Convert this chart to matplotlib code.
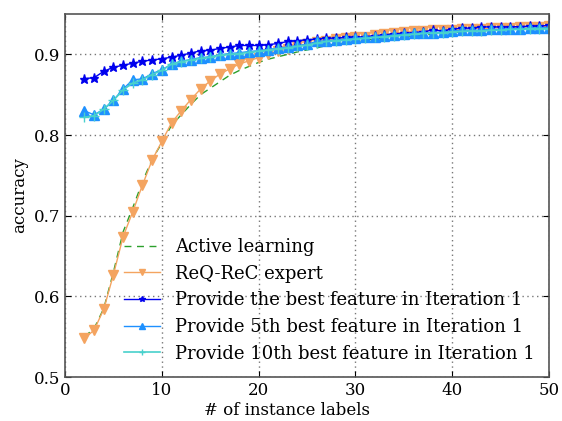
import numpy as np
import matplotlib
matplotlib.use('Agg')
import matplotlib.pyplot as plt

plt.rcParams['font.family'] = 'DejaVu Serif'
plt.rcParams['mathtext.fontset'] = 'dejavuserif'

# numero de etiquetas (eje x)
x = np.arange(2, 51)

active = [0.550, 0.560, 0.585, 0.630, 0.680, 0.710, 0.742, 0.770, 0.790, 0.812,
          0.825, 0.838, 0.850, 0.858, 0.866, 0.874, 0.880, 0.885, 0.890, 0.894,
          0.897, 0.900, 0.903, 0.9055, 0.908, 0.911, 0.913, 0.914, 0.916, 0.9175,
          0.919, 0.920, 0.921, 0.922, 0.923, 0.924, 0.925, 0.926, 0.927, 0.928,
          0.929, 0.929, 0.930, 0.930, 0.931, 0.931, 0.932, 0.932, 0.933]
reqrec = [0.548, 0.558, 0.584, 0.627, 0.674, 0.705, 0.738, 0.769, 0.792, 0.815,
          0.830, 0.844, 0.857, 0.867, 0.8755, 0.882, 0.888, 0.892, 0.896, 0.900,
          0.904, 0.9065, 0.9105, 0.9125, 0.915, 0.917, 0.919, 0.920, 0.921, 0.922,
          0.9235, 0.925, 0.926, 0.928, 0.929, 0.9295, 0.930, 0.930, 0.9305, 0.931,
          0.932, 0.932, 0.9325, 0.933, 0.933, 0.9335, 0.934, 0.934, 0.935]
best1 = [0.870, 0.871, 0.879, 0.884, 0.8865, 0.889, 0.8915, 0.893, 0.8945, 0.8965,
         0.899, 0.9015, 0.9045, 0.905, 0.9075, 0.909, 0.911, 0.911, 0.911, 0.912,
         0.9135, 0.916, 0.917, 0.918, 0.919, 0.920, 0.920, 0.921, 0.921, 0.922,
         0.923, 0.924, 0.9255, 0.926, 0.927, 0.928, 0.930, 0.929, 0.9315, 0.9325,
         0.9325, 0.934, 0.934, 0.934, 0.934, 0.9345, 0.935, 0.935, 0.936]
best5 = [0.830, 0.825, 0.832, 0.843, 0.857, 0.8685, 0.8695, 0.876, 0.881, 0.8875,
         0.8915, 0.8935, 0.896, 0.897, 0.8995, 0.901, 0.902, 0.9035, 0.9045, 0.906,
         0.908, 0.909, 0.911, 0.9125, 0.916, 0.917, 0.918, 0.919, 0.920, 0.921,
         0.922, 0.923, 0.924, 0.925, 0.926, 0.9265, 0.927, 0.9275, 0.929, 0.930,
         0.930, 0.930, 0.931, 0.931, 0.932, 0.932, 0.9325, 0.933, 0.933]
best10 = [0.822, 0.824, 0.832, 0.843, 0.856, 0.8645, 0.8685, 0.875, 0.880, 0.888,
          0.891, 0.893, 0.895, 0.8965, 0.899, 0.900, 0.901, 0.9025, 0.904, 0.9055,
          0.907, 0.908, 0.910, 0.9115, 0.914, 0.916, 0.917, 0.918, 0.919, 0.920,
          0.921, 0.922, 0.923, 0.924, 0.925, 0.926, 0.9265, 0.927, 0.928, 0.9285,
          0.929, 0.929, 0.930, 0.930, 0.931, 0.931, 0.932, 0.932, 0.932]

fig = plt.figure(figsize=(5.62, 4.21), dpi=100)
ax = fig.add_axes([0.1157, 0.1045, 0.8613, 0.8622])

ax.plot(x, active, color='#2ca02c', lw=1, dashes=(5, 4), label='Active learning')
ax.plot(x, reqrec, '-', color='#f4a460', lw=1, marker='v', ms=6.5, mec='#f4a460',
        label='ReQ-ReC expert')
ax.plot(x, best1, '-', color='#0000ee', lw=1, marker='*', ms=6.5, mec='#0000ee',
        label='Provide the best feature in Iteration 1')
ax.plot(x, best5, '-', color='#1e90ff', lw=1, marker='^', ms=6.5, mec='#1e90ff',
        label='Provide 5th best feature in Iteration 1')
ax.plot(x, best10, '-', color='#48d1cc', lw=1.2, marker='+', ms=6.5, mec='#48d1cc',
        label='Provide 10th best feature in Iteration 1')

ax.set_xlim(0, 50)
ax.set_ylim(0.5, 0.95)
ax.set_yticks([0.5, 0.6, 0.7, 0.8, 0.9])
ax.set_xticks([0, 10, 20, 30, 40, 50])
ax.grid(True, linestyle=(0, (1, 2.5)), color='#777777', lw=1)
ax.tick_params(direction='in', top=True, right=True, labelsize=12, length=4)
for s in ax.spines.values():
    s.set_color('#555555')
    s.set_linewidth(1.2)
ax.set_xlabel('# of instance labels', fontsize=12)
ax.xaxis.set_label_coords(0.459, -0.07)
ax.set_ylabel('accuracy', fontsize=12)
ax.legend(loc='lower right', frameon=False, fontsize=13, numpoints=1,
          handlelength=2.0, handletextpad=0.8, labelspacing=0.48,
          borderaxespad=0.4, markerscale=0.6)

fig.savefig('out.png', dpi=100)
